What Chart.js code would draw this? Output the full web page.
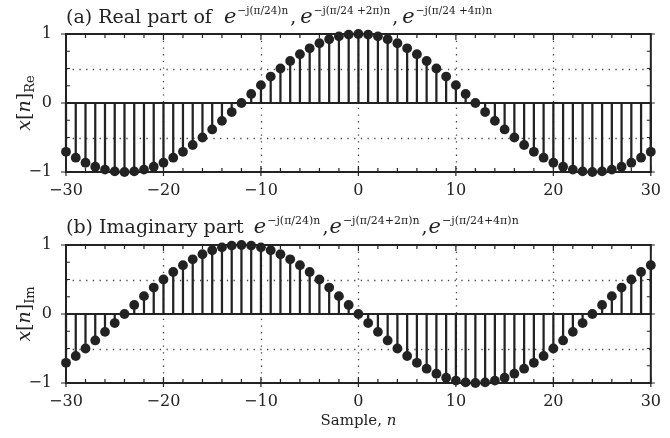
<!DOCTYPE html>
<html>
<head>
<meta charset="utf-8">
<script src="https://cdn.jsdelivr.net/npm/chart.js@4.4.1/dist/chart.umd.min.js"></script>
<style>
  html, body { margin: 0; padding: 0; background: #fff; }
  #wrap { position: relative; width: 670px; height: 438px; }
  canvas { position: absolute; left: 0; }
  #cRe { top: 0; }
  #cIm { top: 200px; }
</style>
</head>
<body>
<div id="wrap">
  <canvas id="cRe" width="670" height="210"></canvas>
  <canvas id="cIm" width="670" height="238"></canvas>
</div>
<script>
// Sample index n
const samples = [-30,-29,-28,-27,-26,-25,-24,-23,-22,-21,-20,-19,-18,-17,-16,-15,-14,-13,-12,-11,-10,
                 -9,-8,-7,-6,-5,-4,-3,-2,-1,0,1,2,3,4,5,6,7,8,9,
                 10,11,12,13,14,15,16,17,18,19,20,21,22,23,24,25,26,27,28,29,30];

// Real part of the sequence, n = -30 ... 30
const realPart = [-0.707,-0.793,-0.866,-0.924,-0.966,-0.991,-1.000,-0.991,-0.966,-0.924,-0.866,
                  -0.793,-0.707,-0.609,-0.500,-0.383,-0.259,-0.131,0.000,0.131,0.259,
                  0.383,0.500,0.609,0.707,0.793,0.866,0.924,0.966,0.991,1.000,
                  0.991,0.966,0.924,0.866,0.793,0.707,0.609,0.500,0.383,0.259,
                  0.131,0.000,-0.131,-0.259,-0.383,-0.500,-0.609,-0.707,-0.793,-0.866,
                  -0.924,-0.966,-0.991,-1.000,-0.991,-0.966,-0.924,-0.866,-0.793,-0.707];

// Imaginary part of the sequence, n = -30 ... 30
const imagPart = [-0.707,-0.609,-0.500,-0.383,-0.259,-0.131,0.000,0.131,0.259,0.383,0.500,
                  0.609,0.707,0.793,0.866,0.924,0.966,0.991,1.000,0.991,0.966,
                  0.924,0.866,0.793,0.707,0.609,0.500,0.383,0.259,0.131,0.000,
                  -0.131,-0.259,-0.383,-0.500,-0.609,-0.707,-0.793,-0.866,-0.924,-0.966,
                  -0.991,-1.000,-0.991,-0.966,-0.924,-0.866,-0.793,-0.707,-0.609,-0.500,
                  -0.383,-0.259,-0.131,0.000,0.131,0.259,0.383,0.500,0.609,0.707];

// Axis ticks
const xMajorTicks = [-30,-20,-10,0,10,20,30];
const xGridTicks = [-20,-10,0,10,20];
const yMajorTicks = [-1,0,1];
const yGridTicks = [-0.5,0.5];
const xMinorStep = 2;
const yMinorStep = 0.25;

const SERIF = '"DejaVu Serif", serif';
const INK = '#222';

Chart.defaults.font.family = SERIF;
Chart.defaults.font.size = 16;
Chart.defaults.color = INK;

function drawRuns(ctx, x, y, runs) {
  for (const r of runs) {
    x += r.gap || 0;
    ctx.font = r.f;
    ctx.fillText(r.t, x, y + (r.dy || 0));
    x += ctx.measureText(r.t).width;
  }
  return x;
}

const expBig = 'italic 21px ' + SERIF;
const supA = '10.5px ' + SERIF;
const supB = '11px ' + SERIF;

// Frame, dotted grid, inner ticks and zero line for one panel
const panelPlugin = {
  id: 'panel',
  beforeDatasetsDraw(chart, args, opts) {
    const { ctx, chartArea: a, scales: { x, y } } = chart;
    ctx.save();
    // dotted grid
    ctx.strokeStyle = '#444';
    ctx.lineWidth = 1.3;
    ctx.setLineDash([1.3, 5.4]);
    for (const v of xGridTicks) {
      const px = Math.round(x.getPixelForValue(v)) + 0.5;
      ctx.beginPath(); ctx.moveTo(px, a.top); ctx.lineTo(px, a.bottom); ctx.stroke();
    }
    for (const v of yGridTicks) {
      const py = Math.round(y.getPixelForValue(v)) + 0.5;
      ctx.beginPath(); ctx.moveTo(a.left, py); ctx.lineTo(a.right, py); ctx.stroke();
    }
    ctx.setLineDash([]);
    // minor ticks pointing inward
    ctx.strokeStyle = INK;
    ctx.lineWidth = 1.2;
    const tl = 4;
    ctx.beginPath();
    for (let v = x.min; v <= x.max + 1e-9; v += xMinorStep) {
      const px = x.getPixelForValue(v);
      ctx.moveTo(px, a.top); ctx.lineTo(px, a.top + tl);
      ctx.moveTo(px, a.bottom); ctx.lineTo(px, a.bottom - tl);
    }
    for (let v = y.min; v <= y.max + 1e-9; v += yMinorStep) {
      const py = y.getPixelForValue(v);
      ctx.moveTo(a.left, py); ctx.lineTo(a.left + tl, py);
      ctx.moveTo(a.right, py); ctx.lineTo(a.right - tl, py);
    }
    // major ticks extend outward as well
    for (const v of xMajorTicks) {
      const px = x.getPixelForValue(v);
      ctx.moveTo(px, a.bottom); ctx.lineTo(px, a.bottom + 4);
      ctx.moveTo(px, a.top); ctx.lineTo(px, a.top + 6);
      ctx.moveTo(px, a.bottom); ctx.lineTo(px, a.bottom - 6);
    }
    for (const v of yMajorTicks) {
      const py = y.getPixelForValue(v);
      ctx.moveTo(a.left - 5, py); ctx.lineTo(a.left + 6, py);
      ctx.moveTo(a.right + 4, py); ctx.lineTo(a.right - 6, py);
    }
    ctx.stroke();
    // frame
    ctx.lineWidth = 2;
    ctx.strokeRect(a.left, a.top, a.right - a.left, a.bottom - a.top);
    // zero line
    const p0 = y.getPixelForValue(0);
    ctx.beginPath(); ctx.moveTo(a.left, p0); ctx.lineTo(a.right, p0); ctx.stroke();
    ctx.restore();
  },
  afterDraw(chart, args, opts) {
    const { ctx, chartArea: a } = chart;
    ctx.save();
    ctx.fillStyle = INK;
    ctx.textBaseline = 'alphabetic';
    // panel heading
    drawRuns(ctx, a.left, opts.titleY, opts.title);
    // y axis label
    ctx.translate(opts.yLabelX, (a.top + a.bottom) / 2);
    ctx.rotate(-Math.PI / 2);
    const runs = [
      { t: 'x', f: 'italic 19px ' + SERIF },
      { t: '[', f: '19px ' + SERIF },
      { t: 'n', f: 'italic 19px ' + SERIF },
      { t: ']', f: '19px ' + SERIF },
      { t: opts.sub, f: '13px ' + SERIF, dy: 4 }
    ];
    let w = 0;
    for (const r of runs) { ctx.font = r.f; w += ctx.measureText(r.t).width; }
    drawRuns(ctx, -w / 2, 0, runs);
    ctx.restore();
    if (opts.xLabel) {
      ctx.save();
      ctx.fillStyle = INK;
      const xr = [
        { t: 'Sample, ', f: '15px ' + SERIF },
        { t: 'n', f: 'italic 15px ' + SERIF }
      ];
      let xw = 0;
      for (const r of xr) { ctx.font = r.f; xw += ctx.measureText(r.t).width; }
      drawRuns(ctx, (a.left + a.right) / 2 - xw / 2, opts.xLabelY, xr);
      ctx.restore();
    }
  }
};

function minusFmt(v) {
  return v < 0 ? '\u2212' + Math.abs(v) : String(v);
}

function makePanel(canvasId, values, plotTop, xAxisH, panelOpts) {
  const pts = samples.map((n, i) => ({ x: n, y: values[i] }));
  return new Chart(document.getElementById(canvasId), {
    type: 'bar',
    data: {
      datasets: [
        { type: 'bar', data: pts, backgroundColor: INK, barThickness: 1.6, order: 2, clip: false },
        { type: 'scatter', data: pts, backgroundColor: INK, borderWidth: 0, pointRadius: 4.9,
          pointHoverRadius: 4.9, order: 1, clip: false }
      ]
    },
    options: {
      responsive: false,
      animation: false,
      events: [],
      layout: { padding: { left: 0, right: 8, top: plotTop, bottom: 0 } },
      plugins: { legend: { display: false }, tooltip: { enabled: false }, panel: panelOpts },
      scales: {
        x: {
          type: 'linear', min: -30, max: 30, offset: false,
          grid: { display: false, drawTicks: false }, border: { display: false },
          ticks: { stepSize: 10, padding: 9, maxRotation: 0, autoSkip: false,
                   callback: minusFmt, font: { size: 16 } },
          afterFit(s) { s.height = xAxisH; }
        },
        y: {
          min: -1, max: 1,
          grid: { display: false, drawTicks: false }, border: { display: false },
          ticks: { stepSize: 1, padding: 14, callback: minusFmt, font: { size: 16 } },
          afterFit(s) { s.width = 66; }
        }
      }
    },
    plugins: [panelPlugin]
  });
}

const headSize = '19px ' + SERIF;

makePanel('cRe', realPart, 34, 38, {
  titleY: 23,
  title: [
    { t: '(a) Real part of ', f: headSize },
    { t: 'e', f: expBig, gap: 6 },
    { t: '\u2212j(\u03c0/24)n', f: supA, dy: -9, gap: 1 },
    { t: ',', f: headSize, gap: 2 },
    { t: 'e', f: expBig, gap: 4 },
    { t: '\u2212j(\u03c0/24 +2\u03c0)n', f: supA, dy: -9, gap: 1 },
    { t: ',', f: headSize, gap: 2 },
    { t: 'e', f: expBig, gap: 4 },
    { t: '\u2212j(\u03c0/24 +4\u03c0)n', f: supA, dy: -9, gap: 1 }
  ],
  sub: 'Re',
  yLabelX: 30
});

makePanel('cIm', imagPart, 45, 55, {
  titleY: 33,
  title: [
    { t: '(b) Imaginary part ', f: headSize },
    { t: 'e', f: expBig, gap: 4 },
    { t: '\u2212j(\u03c0/24)n', f: supB, dy: -9, gap: 1 },
    { t: ',', f: headSize, gap: 2 },
    { t: 'e', f: expBig, gap: 1 },
    { t: '\u2212j(\u03c0/24+2\u03c0)n', f: supB, dy: -9, gap: 1 },
    { t: ',', f: headSize, gap: 2 },
    { t: 'e', f: expBig, gap: 1 },
    { t: '\u2212j(\u03c0/24+4\u03c0)n', f: supB, dy: -9, gap: 1 }
  ],
  sub: 'Im',
  yLabelX: 30,
  xLabel: true,
  xLabelY: 225
});
</script>
</body>
</html>
